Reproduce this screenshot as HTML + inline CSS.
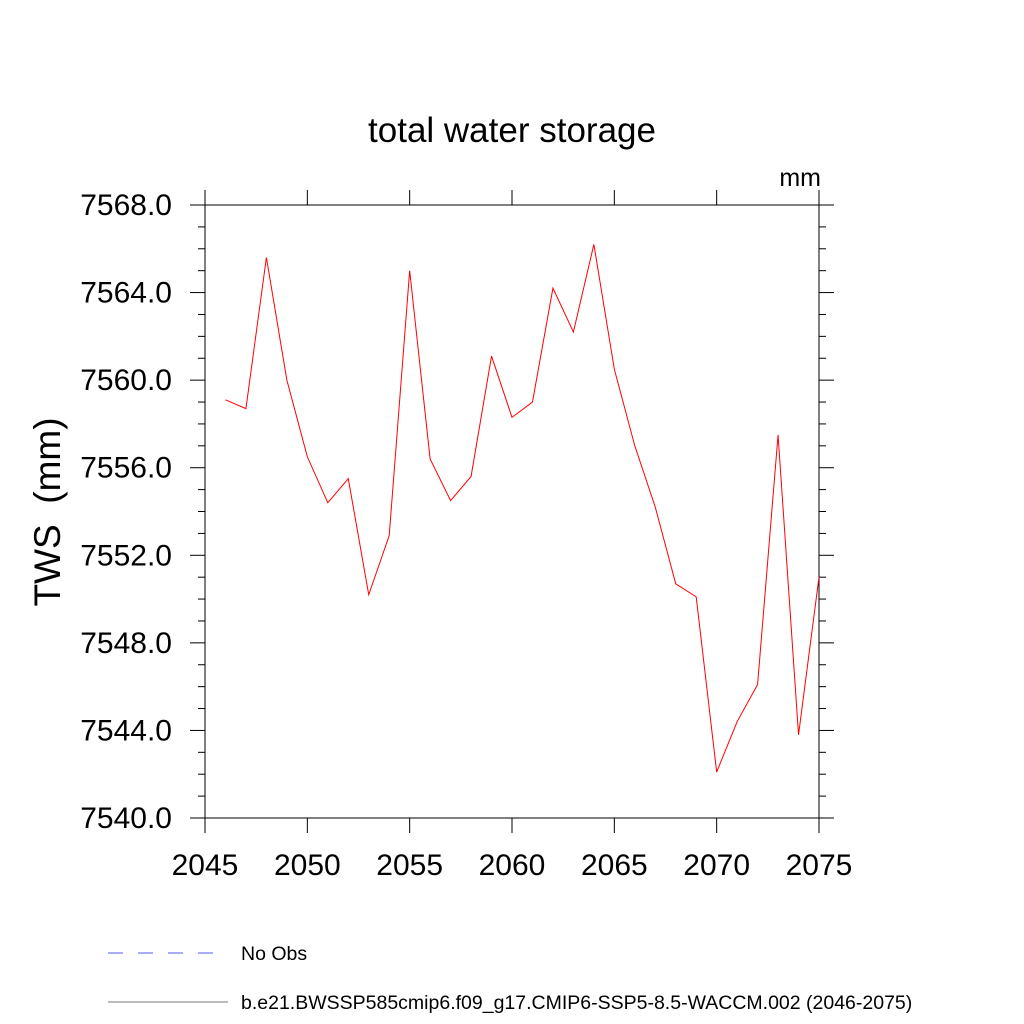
<!DOCTYPE html>
<html><head><meta charset="utf-8"><style>body{margin:0;background:#fff}svg{display:block}text{font-family:"Liberation Sans",sans-serif}</style></head>
<body>
<svg id="c" width="1024" height="1024">
<text x="512" y="142" font-size="35" text-anchor="middle">total water storage</text>
<text x="821" y="186" font-size="25" text-anchor="end">mm</text>
<text transform="translate(60,512) rotate(-90)" font-size="37" text-anchor="middle">TWS&#160;&#160;(mm)</text>
<g id="axes"></g>
<g id="plot"></g>
<line x1="108" y1="953" x2="215" y2="953" stroke="#5555ff" stroke-dasharray="15,15"/>
<text x="241" y="960" font-size="19.5">No Obs</text>
<line x1="108" y1="1002" x2="228" y2="1002" stroke="#777"/>
<text x="241" y="1009" font-size="19.5">b.e21.BWSSP585cmip6.f09_g17.CMIP6-SSP5-8.5-WACCM.002 (2046-2075)</text>
</svg>
<script>
const years=[2046,2047,2048,2049,2050,2051,2052,2053,2054,2055,2056,2057,2058,2059,2060,2061,2062,2063,2064,2065,2066,2067,2068,2069,2070,2071,2072,2073,2074,2075];
const tws=[7559.1,7558.7,7565.6,7560.0,7556.5,7554.4,7555.5,7550.2,7552.9,7565.0,7556.4,7554.5,7555.6,7561.1,7558.3,7559.0,7564.2,7562.2,7566.2,7560.5,7557.0,7554.2,7550.7,7550.1,7542.1,7544.4,7546.1,7557.5,7543.8,7551.0];
const xTicks=[2045,2050,2055,2060,2065,2070,2075];
const yTicks=[7540,7544,7548,7552,7556,7560,7564,7568];
const L=205,R=819,T=205,B=818,x0=2045,x1=2075,y0=7540,y1=7568;
const sx=v=>L+(v-x0)/(x1-x0)*(R-L), sy=v=>B-(v-y0)/(y1-y0)*(B-T);
const NS="http://www.w3.org/2000/svg";
const ax=document.getElementById('axes'), pl=document.getElementById('plot');
function mk(p,t,a){const e=document.createElementNS(NS,t);for(const k in a)e.setAttribute(k,a[k]);p.appendChild(e);return e;}
const fr=mk(ax,'rect',{x:L,y:T,width:R-L,height:B-T,fill:'none',stroke:'#000','stroke-width':1});


xTicks.forEach(v=>{const x=sx(v);
mk(ax,'line',{x1:x,y1:B,x2:x,y2:B+15,stroke:'#000'});mk(ax,'line',{x1:x,y1:T,x2:x,y2:T-15,stroke:'#000'});});
for(let v=y0;v<=y1;v++){const y=sy(v),len=v%4==0?15:7;
mk(ax,'line',{x1:L,y1:y,x2:L-len,y2:y,stroke:'#000'});mk(ax,'line',{x1:R,y1:y,x2:R+len,y2:y,stroke:'#000'});}
xTicks.forEach(v=>{const t=mk(ax,'text',{x:sx(v),y:875,'font-size':30,'text-anchor':'middle'});t.textContent=v;

});
yTicks.forEach(v=>{const t=mk(ax,'text',{x:172,y:sy(v)+10,'font-size':30,'text-anchor':'end'});t.textContent=v.toFixed(1);

});
const ln=mk(pl,'polyline',{points:years.map((y,i)=>sx(y)+','+sy(tws[i])).join(' '),fill:'none',stroke:'#f00','stroke-width':1});


</script>
</body></html>
